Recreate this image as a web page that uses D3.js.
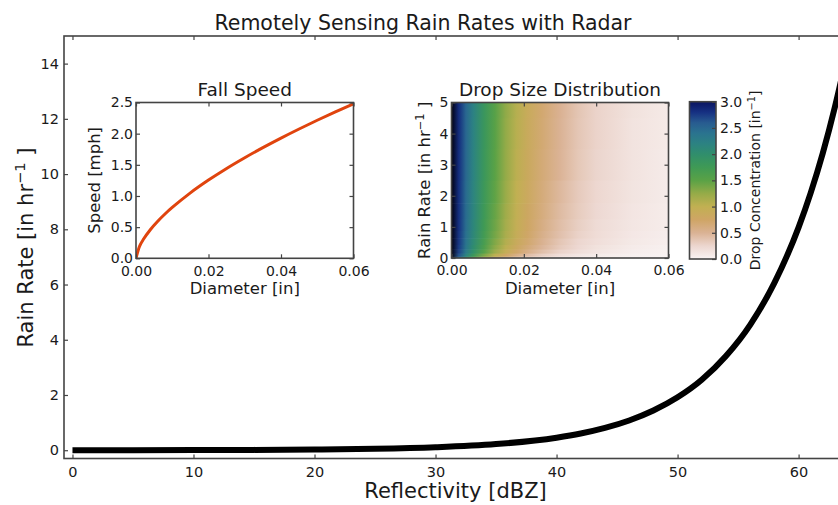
<!DOCTYPE html>
<html><head><meta charset="utf-8">
<script src="https://cdn.jsdelivr.net/npm/d3@7"></script>
<style>body{margin:0;background:#fff} text{font-family:'DejaVu Sans',sans-serif;fill:#1a1a1a}</style>
</head><body><svg id="c" width="838" height="505" xmlns="http://www.w3.org/2000/svg"></svg>
<script>
// ---------- data ----------
const mainDBZ  = [0, 5, 10, 15, 20, 25, 30, 35, 40, 42, 44, 46, 48, 50, 52, 54, 56, 58, 60, 61, 62, 63, 64];
const mainRate = [0.0014, 0.003, 0.006, 0.012, 0.026, 0.052, 0.108, 0.221, 0.454, 0.605, 0.807, 1.077, 1.437, 1.915, 2.55, 3.41, 4.54, 6.06, 8.07, 9.32, 10.76, 12.43, 14.35];
const mainXTicks = [0, 10, 20, 30, 40, 50, 60];
const mainYTicks = [0, 2, 4, 6, 8, 10, 12, 14];

const fallDiam  = [0, 0.001, 0.002, 0.004, 0.006, 0.008, 0.01, 0.015, 0.02, 0.025, 0.03, 0.035, 0.04, 0.045, 0.05, 0.055, 0.06];
const fallSpeed = [0, 0.196, 0.301, 0.463, 0.595, 0.711, 0.816, 1.050, 1.255, 1.442, 1.614, 1.776, 1.929, 2.075, 2.215, 2.350, 2.480];
const insetXTicks = [0, 0.02, 0.04, 0.06];
const fallYTicks = [0, 0.5, 1.0, 1.5, 2.0, 2.5];

const dsdDiam = [0, 0.002, 0.004, 0.006, 0.009, 0.012, 0.015, 0.018, 0.021, 0.025, 0.03, 0.035, 0.04, 0.05, 0.06];
const dsdRate = [0, 0.1, 0.2, 0.35, 0.5, 0.75, 1, 1.5, 2, 3, 4, 5];
const dsdConc = [
  [3.20, 2.45, 1.88, 1.44, 0.96, 0.65, 0.43, 0.29, 0.19, 0.11, 0.06, 0.03, 0.02, 0.00, 0.00],
  [3.20, 2.64, 2.19, 1.81, 1.36, 1.02, 0.77, 0.58, 0.43, 0.30, 0.18, 0.11, 0.07, 0.03, 0.01],
  [3.20, 2.72, 2.31, 1.96, 1.53, 1.20, 0.94, 0.73, 0.57, 0.41, 0.27, 0.18, 0.12, 0.05, 0.02],
  [3.20, 2.75, 2.36, 2.03, 1.62, 1.29, 1.03, 0.82, 0.65, 0.48, 0.33, 0.23, 0.15, 0.07, 0.03],
  [3.20, 2.77, 2.39, 2.07, 1.67, 1.34, 1.08, 0.87, 0.70, 0.52, 0.36, 0.25, 0.18, 0.09, 0.04],
  [3.20, 2.78, 2.42, 2.11, 1.71, 1.39, 1.13, 0.92, 0.74, 0.56, 0.40, 0.28, 0.20, 0.10, 0.05],
  [3.20, 2.80, 2.44, 2.13, 1.74, 1.42, 1.16, 0.95, 0.77, 0.59, 0.42, 0.30, 0.21, 0.11, 0.06],
  [3.20, 2.81, 2.46, 2.16, 1.77, 1.45, 1.19, 0.98, 0.80, 0.62, 0.44, 0.32, 0.23, 0.12, 0.06],
  [3.20, 2.81, 2.47, 2.17, 1.79, 1.48, 1.22, 1.00, 0.83, 0.64, 0.46, 0.33, 0.24, 0.13, 0.07],
  [3.20, 2.82, 2.49, 2.19, 1.82, 1.50, 1.25, 1.03, 0.85, 0.66, 0.49, 0.35, 0.26, 0.14, 0.07],
  [3.20, 2.83, 2.50, 2.20, 1.83, 1.52, 1.26, 1.05, 0.87, 0.68, 0.50, 0.36, 0.27, 0.14, 0.08],
  [3.20, 2.83, 2.50, 2.21, 1.84, 1.53, 1.27, 1.06, 0.88, 0.69, 0.51, 0.37, 0.27, 0.15, 0.08]
];
const dsdYTicks = [0, 1, 2, 3, 4, 5];
const cbarTicks = [0, 0.5, 1.0, 1.5, 2.0, 2.5, 3.0];

// colormap (gist_earth_r look)
const cmapVals = [0, 0.25, 0.5, 0.75, 1.0, 1.25, 1.5, 1.75, 2.0, 2.2, 2.4, 2.6, 2.8, 3.0, 3.2];
const cmapCols = ['#f9f3f3','#ecd6cf','#dab294','#cfa565','#c1b052','#95ab48','#5aa246','#3f9a55','#308e6c','#2c8282','#2a738f','#285b90','#163082','#0a1460','#000010'];
const cmap = d3.scaleLinear().domain(cmapVals).range(cmapCols).interpolate(d3.interpolateRgb).clamp(true);

// ---------- drawing ----------
const svg = d3.select('#c');
const defs = svg.append('defs');
const FONT = "'DejaVu Sans', sans-serif";
const AX = '#444';
const TXT = '#1a1a1a';

function drawAxes(box, xs, ys, xt, yt, fx, fy, fs, padX, padY, tick) {
  const g = svg.append('g');
  const ax = (gen, tr, labels) => {
    const a = g.append('g').attr('transform', tr).call(gen);
    a.select('.domain').remove();
    a.attr('font-family', FONT).attr('font-size', fs);
    a.selectAll('line').attr('stroke', AX).attr('stroke-width', 1.2);
    a.selectAll('text').attr('fill', TXT);
    if (!labels) a.selectAll('text').remove();
  };
  if (xt) {
    ax(d3.axisBottom(xs).tickValues(xt).tickFormat(fx).tickSize(-tick).tickPadding(padX), `translate(0,${box.b})`, true);
    ax(d3.axisTop(xs).tickValues(xt).tickSize(-tick), `translate(0,${box.t})`, false);
  }
  if (yt) {
    ax(d3.axisLeft(ys).tickValues(yt).tickFormat(fy).tickSize(-tick).tickPadding(padY), `translate(${box.l},0)`, true);
    ax(d3.axisRight(ys).tickValues(yt).tickSize(-tick), `translate(${box.r},0)`, false);
  }
  g.append('rect').attr('x', box.l).attr('y', box.t).attr('width', box.r - box.l).attr('height', box.b - box.t)
    .attr('fill', 'none').attr('stroke', AX).attr('stroke-width', 1.6);
  return g;
}

function label(x, y, fs, rot, anchor) {
  return svg.append('text').attr('font-size', fs).attr('text-anchor', anchor || 'middle').attr('fill', TXT)
    .attr('transform', `translate(${x},${y})` + (rot ? ` rotate(${rot})` : ''));
}
function supLabel(t, before, sup, after) {
  t.append('tspan').text(before);
  t.append('tspan').attr('font-size', '0.7em').attr('dy', '-0.55em').text(sup);
  t.append('tspan').attr('dy', '0.385em').text(after);
}

// Main axes
const M = {l: 64, t: 36, r: 847, b: 458.5};
const xM = d3.scaleLinear().domain([-0.7, 64]).range([M.l, M.r]);
const yM = d3.scaleLinear().domain([-0.3, 15]).range([M.b, M.t]);
defs.append('clipPath').attr('id', 'clipMain').append('rect')
  .attr('x', M.l).attr('y', M.t).attr('width', M.r - M.l).attr('height', M.b - M.t);
svg.append('rect').attr('x', M.l).attr('y', M.t).attr('width', M.r - M.l).attr('height', M.b - M.t).attr('fill', '#fff');
svg.append('path').datum(d3.zip(mainDBZ, mainRate))
  .attr('d', d3.line().x(d => xM(d[0])).y(d => yM(d[1])).curve(d3.curveMonotoneX))
  .attr('fill', 'none').attr('stroke', '#000').attr('stroke-width', 6).attr('clip-path', 'url(#clipMain)');
drawAxes(M, xM, yM, mainXTicks, mainYTicks, d3.format('d'), d3.format('d'), 14.5, 8, 5, 4);

label(423, 30, 20.5).text('Remotely Sensing Rain Rates with Radar');
label(455.5, 498, 21).text('Reflectivity [dBZ]');
supLabel(label(33, 247.5, 21, -90), 'Rain Rate [in hr', '\u22121', ' ]');

// Inset 1: fall speed
const F = {l: 136, t: 102.5, r: 353.5, b: 258.3};
const xF = d3.scaleLinear().domain([0, 0.06]).range([F.l, F.r]);
const yF = d3.scaleLinear().domain([0, 2.5]).range([F.b, F.t]);
svg.append('rect').attr('x', F.l).attr('y', F.t).attr('width', F.r - F.l).attr('height', F.b - F.t).attr('fill', '#fff');
defs.append('clipPath').attr('id', 'clipF').append('rect')
  .attr('x', F.l).attr('y', F.t - 2).attr('width', F.r - F.l).attr('height', F.b - F.t + 2);
svg.append('path').datum(d3.zip(fallDiam, fallSpeed))
  .attr('d', d3.line().x(d => xF(d[0])).y(d => yF(d[1])).curve(d3.curveCatmullRom.alpha(0.5)))
  .attr('fill', 'none').attr('stroke', '#e0440e').attr('stroke-width', 3).attr('clip-path', 'url(#clipF)');
drawAxes(F, xF, yF, insetXTicks, fallYTicks, d3.format('.2f'), d3.format('.1f'), 14, 7.5, 3, 4);
label((F.l + F.r) / 2, 96, 18.5).text('Fall Speed');
label((F.l + F.r) / 2, 294, 16.5).text('Diameter [in]');
label(100, (F.t + F.b) / 2, 16.5, -90).text('Speed [mph]');

// Inset 2: drop size distribution
const H = {l: 451.5, t: 102.5, r: 668.5, b: 258};
const xH = d3.scaleLinear().domain([0, 0.06]).range([H.l, H.r]);
const yH = d3.scaleLinear().domain([0, 5]).range([H.b, H.t]);
dsdRate.forEach((r, i) => {
  const id = 'row' + i;
  const grad = defs.append('linearGradient').attr('id', id).attr('x1', 0).attr('x2', 1).attr('y1', 0).attr('y2', 0);
  dsdDiam.forEach((d, j) => {
    grad.append('stop').attr('offset', (d / 0.06)).attr('stop-color', cmap(dsdConc[i][j]));
  });
  const lo = i === 0 ? 0 : (dsdRate[i - 1] + r) / 2;
  const hi = i === dsdRate.length - 1 ? 5 : (dsdRate[i + 1] + r) / 2;
  svg.append('rect').attr('x', H.l).attr('width', H.r - H.l)
    .attr('y', yH(hi) - 0.3).attr('height', yH(lo) - yH(hi) + 0.6)
    .attr('fill', `url(#${id})`);
});
drawAxes(H, xH, yH, insetXTicks, dsdYTicks, d3.format('.2f'), d3.format('d'), 14, 7.5, 3, 4);
label((H.l + H.r) / 2, 96, 18.5).text('Drop Size Distribution');
label((H.l + H.r) / 2, 294, 16.5).text('Diameter [in]');
supLabel(label(430, (H.t + H.b) / 2, 16.5, -90), 'Rain Rate [in hr', '\u22121', ' ]');

// Colorbar
const C = {l: 689.5, t: 101.7, r: 716, b: 259};
const yC = d3.scaleLinear().domain([0, 3]).range([C.b, C.t]);
const cg = defs.append('linearGradient').attr('id', 'cbar').attr('x1', 0).attr('x2', 0).attr('y1', 1).attr('y2', 0);
cmapVals.filter(v => v <= 3).forEach(v => cg.append('stop').attr('offset', v / 3).attr('stop-color', cmap(v)));
svg.append('rect').attr('x', C.l).attr('y', C.t).attr('width', C.r - C.l).attr('height', C.b - C.t).attr('fill', 'url(#cbar)');
{
  const a = svg.append('g').attr('transform', `translate(${C.r},0)`)
    .call(d3.axisRight(yC).tickValues(cbarTicks).tickFormat(d3.format('.1f')).tickSize(-4).tickPadding(4));
  a.select('.domain').remove();
  a.attr('font-family', FONT).attr('font-size', 14);
  a.selectAll('line').attr('stroke', AX).attr('stroke-width', 1.2);
  a.selectAll('text').attr('fill', TXT);
  svg.append('rect').attr('x', C.l).attr('y', C.t).attr('width', C.r - C.l).attr('height', C.b - C.t)
    .attr('fill', 'none').attr('stroke', AX).attr('stroke-width', 1.6);
}
supLabel(label(760, (C.t + C.b) / 2, 14, -90), 'Drop Concentration [in', '\u22121', ']');
</script></body></html>
